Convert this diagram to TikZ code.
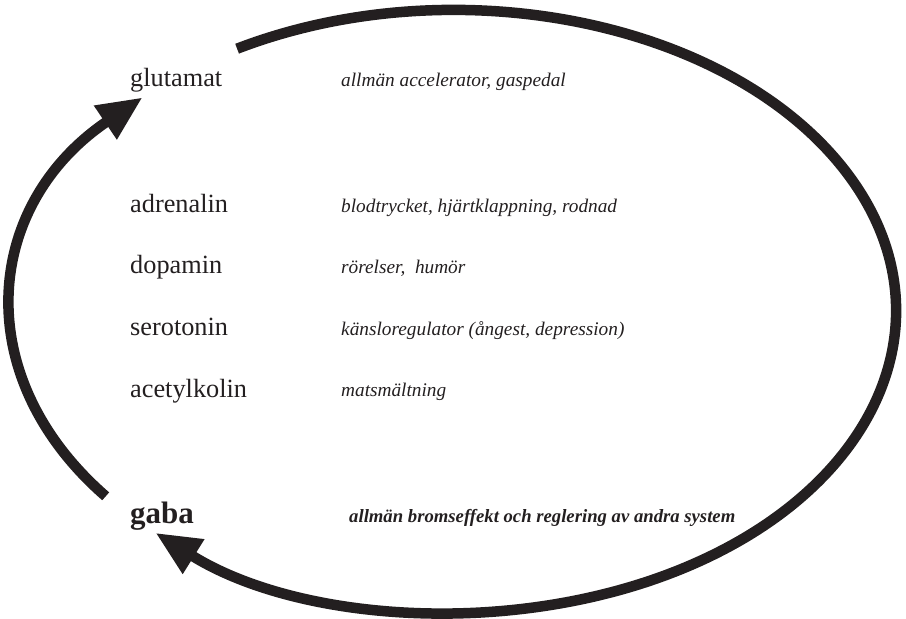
\documentclass[tikz,border=0pt]{standalone}
\usepackage{fontspec}
\setmainfont{Liberation Serif}
\usetikzlibrary{arrows.meta}
\definecolor{ink}{HTML}{231F20}
\tikzset{
  cyc/.style={draw=ink, line width=10.5pt, line cap=butt,
    -{Triangle[length=45pt,width=38pt]}},
  sub/.style={anchor=base west, inner sep=0pt, text=ink, font=\fontsize{26.3}{30}\selectfont},
  subbig/.style={anchor=base west, inner sep=0pt, text=ink, font=\fontsize{31}{36}\selectfont\bfseries},
  desc/.style={anchor=base west, inner sep=0pt, text=ink, font=\fontsize{19.3}{23}\selectfont\itshape},
  descb/.style={anchor=base west, inner sep=0pt, text=ink, font=\fontsize{18.7}{23}\selectfont\bfseries\itshape},
}
\begin{document}
\begin{tikzpicture}[x=1pt,y=1pt]
\useasboundingbox (0,0) rectangle (906,-619);
% ellipse centre (454,-311), radii 442 x 301
\coordinate (topstart) at (237.1,-48.7);
\coordinate (leftstart) at (105.7,-496.3);
\draw[cyc] (topstart) arc[start angle=119.4, end angle=-132.5, x radius=442, y radius=301];
\draw[cyc] (leftstart) arc[start angle=218, end angle=134.8, x radius=442, y radius=301];

\node[sub] (glu) at (130,-86) {glutamat};
\node[sub] (adr) at (130,-212) {adrenalin};
\node[sub] (dop) at (130,-273) {dopamin};
\node[sub] (ser) at (130,-335) {serotonin};
\node[sub] (ace) at (130,-397) {acetylkolin};
\node[subbig] (gab) at (130,-523) {gaba};

\node[desc] (dglu) at (341,-86) {allmän accelerator, gaspedal};
\node[desc] (dadr) at (341,-212) {blodtrycket, hjärtklappning, rodnad};
\node[desc] (ddop) at (341,-273) {rörelser,\ \ humör};
\node[desc] (dser) at (341,-335) {känsloregulator (ångest, depression)};
\node[desc] (dace) at (341,-396) {matsmältning};
\node[descb] (dgab) at (349,-522) {allmän bromseffekt och reglering av andra system};
\end{tikzpicture}
\end{document}
